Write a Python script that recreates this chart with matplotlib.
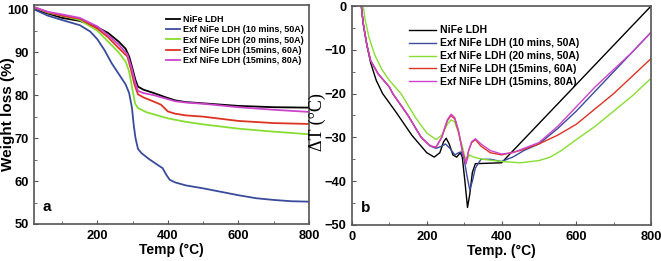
import numpy as np
import matplotlib

matplotlib.use("Agg")
import matplotlib.pyplot as plt
from matplotlib.ticker import MultipleLocator

plt.rcParams["font.family"] = ["Liberation Sans", "DejaVu Sans"]
plt.rcParams["font.weight"] = "bold"

LABELS = [
    "NiFe LDH",
    "Exf NiFe LDH (10 mins, 50A)",
    "Exf NiFe LDH (20 mins, 50A)",
    "Exf NiFe LDH (15mins, 60A)",
    "Exf NiFe LDH (15mins, 80A)",
]
COLORS = ["#000000", "#3a4b9c", "#88dd33", "#dd3322", "#cc44cc"]

# (a) TGA: temperatura, peso %
tga_black_t = [20, 60, 100, 150, 200, 230, 260, 280, 290, 300, 308, 315, 330, 360, 390, 420, 450, 500, 600, 700, 800]
tga_black_w = [100, 99, 98, 97.3, 95.8, 94.5, 92.5, 90.8, 89, 86, 83.5, 82, 81.3, 80.5, 79.6, 78.8, 78.4, 78.1, 77.5, 77.2, 77.1]

tga_blue_t = [20, 60, 100, 150, 180, 200, 220, 240, 260, 280, 290, 298, 303, 308, 315, 325, 345, 370, 385,
              395, 405, 420, 450, 500, 550, 600, 650, 700, 750, 800]
tga_blue_w = [100, 98.5, 97.5, 96.3, 94.8, 93, 90.5, 87.5, 85, 82.5, 80.5, 77, 73, 70, 67.5, 66.5, 65.2, 63.8, 63,
              61.5, 60.3, 59.7, 59, 58.3, 57.5, 56.7, 56, 55.6, 55.3, 55.2]

tga_green_t = [20, 60, 100, 150, 200, 230, 260, 280, 290, 300, 307, 315, 340, 370, 400, 450, 500, 600, 700, 800]
tga_green_w = [100.5, 99.2, 98.5, 97.5, 95, 92.5, 90, 87.8, 85.5, 81, 78, 77, 76, 75.3, 74.6, 73.8, 73.2, 72.2, 71.5, 70.9]

tga_red_t = [20, 60, 100, 150, 200, 230, 260, 285, 295, 305, 315, 330, 360, 380, 390, 400, 420, 450, 500, 600, 700, 800]
tga_red_w = [100.5, 99.3, 98.5, 97.8, 95.5, 93.5, 91, 89, 86, 82.5, 80.2, 79.5, 78.5, 77.8, 77, 76.2, 75.7, 75.3, 75, 74,
             73.5, 73.3]

tga_mag_t = [20, 60, 100, 150, 200, 230, 260, 285, 298, 307, 315, 330, 360, 390, 420, 450, 500, 600, 700, 800]
tga_mag_w = [100.5, 99.4, 98.8, 98, 96, 94, 91.8, 89.5, 86, 83, 81, 80.5, 80, 79.3, 78.6, 78.3, 78, 77.2, 76.6, 76.1]

# (b) DTA: temperatura, delta T
dta_black_t = [25, 30, 40, 50, 65, 82, 120, 160, 200, 220, 235, 245, 252, 260, 270, 280, 290, 295, 302, 309, 315,
               322, 330, 400, 800]
dta_black_d = [0, -4, -9, -13, -17, -20, -24.5, -29.5, -33.5, -34.5, -33.5, -31, -30.2, -31.5, -34, -34.5, -33.5,
               -34.5, -40, -46, -43, -38, -36, -35.8, 0]

dta_blue_t = [25, 30, 40, 50, 70, 100, 109, 150, 185, 210, 225, 240, 250, 262, 275, 285, 292, 300, 308, 315, 322,
              330, 345, 370, 400, 430, 460, 500, 550, 600, 650, 700, 750, 800]
dta_blue_d = [0, -4, -9, -12.5, -15.5, -18.5, -20, -25, -30, -32, -32.5, -32, -31.5, -32.5, -34, -33.5, -33.3, -35,
              -39, -42, -40, -37, -35, -35, -35.5, -34.5, -33, -31.5, -28, -24, -19.5, -15, -10.5, -6]

dta_green_t = [30, 35, 45, 60, 80, 100, 131, 170, 200, 225, 240, 255, 265, 275, 285, 295, 302, 308, 315, 325, 350,
               400, 450, 500, 530, 560, 600, 650, 700, 750, 800]
dta_green_d = [0, -3, -7, -11, -14.5, -17, -20, -25.5, -29, -30.5, -29.5, -27, -26, -26.5, -29, -32, -34.5, -35,
               -34, -34.5, -35, -35.5, -35.8, -35.3, -34.5, -33, -30.5, -27.5, -24, -20.5, -16.5]

dta_red_t = [25, 30, 40, 50, 70, 100, 109, 150, 185, 210, 225, 240, 255, 265, 275, 285, 295, 305, 312, 320, 330,
             345, 370, 400, 450, 500, 550, 600, 650, 700, 750, 800]
dta_red_d = [0, -4, -9, -12.5, -15.5, -18.5, -20, -25, -30, -32, -32.2, -30, -26.2, -25, -25.8, -28.7, -33, -36,
             -33, -31.2, -30.5, -32, -33.5, -34, -33, -31.5, -29.5, -27, -23.5, -20, -16, -12]

dta_mag_t = [25, 30, 40, 50, 70, 100, 109, 150, 185, 210, 225, 240, 255, 265, 275, 285, 295, 305, 312, 320, 330,
             345, 370, 400, 430, 460, 500, 550, 600, 650, 700, 750, 800]
dta_mag_d = [0, -4, -9, -12.5, -15.5, -18.5, -20, -25, -30, -32, -32.2, -30, -26, -24.7, -25.5, -28.5, -33, -36,
             -33, -31, -30.3, -31.5, -33, -33.8, -33.5, -32.5, -31.2, -27.5, -23, -18.5, -14.5, -10.5, -6]

TGA = [(tga_black_t, tga_black_w), (tga_blue_t, tga_blue_w), (tga_green_t, tga_green_w),
       (tga_red_t, tga_red_w), (tga_mag_t, tga_mag_w)]
DTA = [(dta_black_t, dta_black_d), (dta_blue_t, dta_blue_d), (dta_green_t, dta_green_d),
       (dta_red_t, dta_red_d), (dta_mag_t, dta_mag_d)]


def style_axes(ax):
    # Assi grigi, tacche verso l'interno
    for s in ax.spines.values():
        s.set_color("#555555")
        s.set_linewidth(1.2)
    ax.tick_params(which="both", direction="in", colors="#555555", labelcolor="black",
                   labelsize=9.3, top=False, right=False, pad=4)
    ax.tick_params(which="major", length=3)
    ax.tick_params(which="minor", length=2)


fig = plt.figure(figsize=(6.61, 2.61), dpi=100)

# pannello a
ax1 = fig.add_axes([0.0514, 0.1418, 0.416, 0.839])
for (t, w), c, lab in zip(TGA, COLORS, LABELS):
    ax1.plot(t, w, color=c, lw=1.3, label=lab)
ax1.set_xlim(20, 800)
ax1.set_ylim(50, 101)
ax1.set_xticks([200, 400, 600, 800])
ax1.xaxis.set_minor_locator(MultipleLocator(100))
ax1.yaxis.set_major_locator(MultipleLocator(10))
ax1.yaxis.set_minor_locator(MultipleLocator(5))
style_axes(ax1)
ax1.set_xlabel("Temp (°C)", fontsize=10, fontweight="bold", labelpad=1)
ax1.set_ylabel("Weight loss (%)", fontsize=11, fontweight="bold")
ax1.yaxis.set_label_coords(-0.068, 0.5)
ax1.text(0.03, 0.06, "a", transform=ax1.transAxes, fontsize=11, fontweight="bold")
ax1.legend(loc="upper right", bbox_to_anchor=(1.0, 0.98), frameon=False,
           prop={"size": 6.5, "weight": "bold"}, handlelength=1.6,
           handletextpad=0.3, labelspacing=0.15, borderaxespad=0.2)

# pannello b
ax2 = fig.add_axes([0.5325, 0.138, 0.4525, 0.839])
for (t, d), c, lab in zip(DTA, COLORS, LABELS):
    ax2.plot(t, d, color=c, lw=1.0, label=lab)
ax2.set_xlim(0, 800)
ax2.set_ylim(-50, 0)
ax2.set_xticks([0, 200, 400, 600, 800])
ax2.xaxis.set_minor_locator(MultipleLocator(100))
ax2.yaxis.set_major_locator(MultipleLocator(10))
ax2.yaxis.set_minor_locator(MultipleLocator(5))
style_axes(ax2)
ax2.set_xlabel("Temp. (°C)", fontsize=10, fontweight="bold", labelpad=1)
ax2.set_ylabel("ΔT (°C)", fontsize=13, fontweight="normal",
               family=["Liberation Serif", "DejaVu Serif"])
ax2.yaxis.set_label_coords(-0.087, 0.47)
ax2.text(0.03, 0.06, "b", transform=ax2.transAxes, fontsize=11, fontweight="bold")
ax2.legend(loc="upper left", bbox_to_anchor=(0.17, 0.94), frameon=False,
           prop={"size": 7.5, "weight": "bold"}, handlelength=2.6,
           handletextpad=0.4, labelspacing=0.28, borderaxespad=0.2)

fig.savefig("out.png", dpi=100)
